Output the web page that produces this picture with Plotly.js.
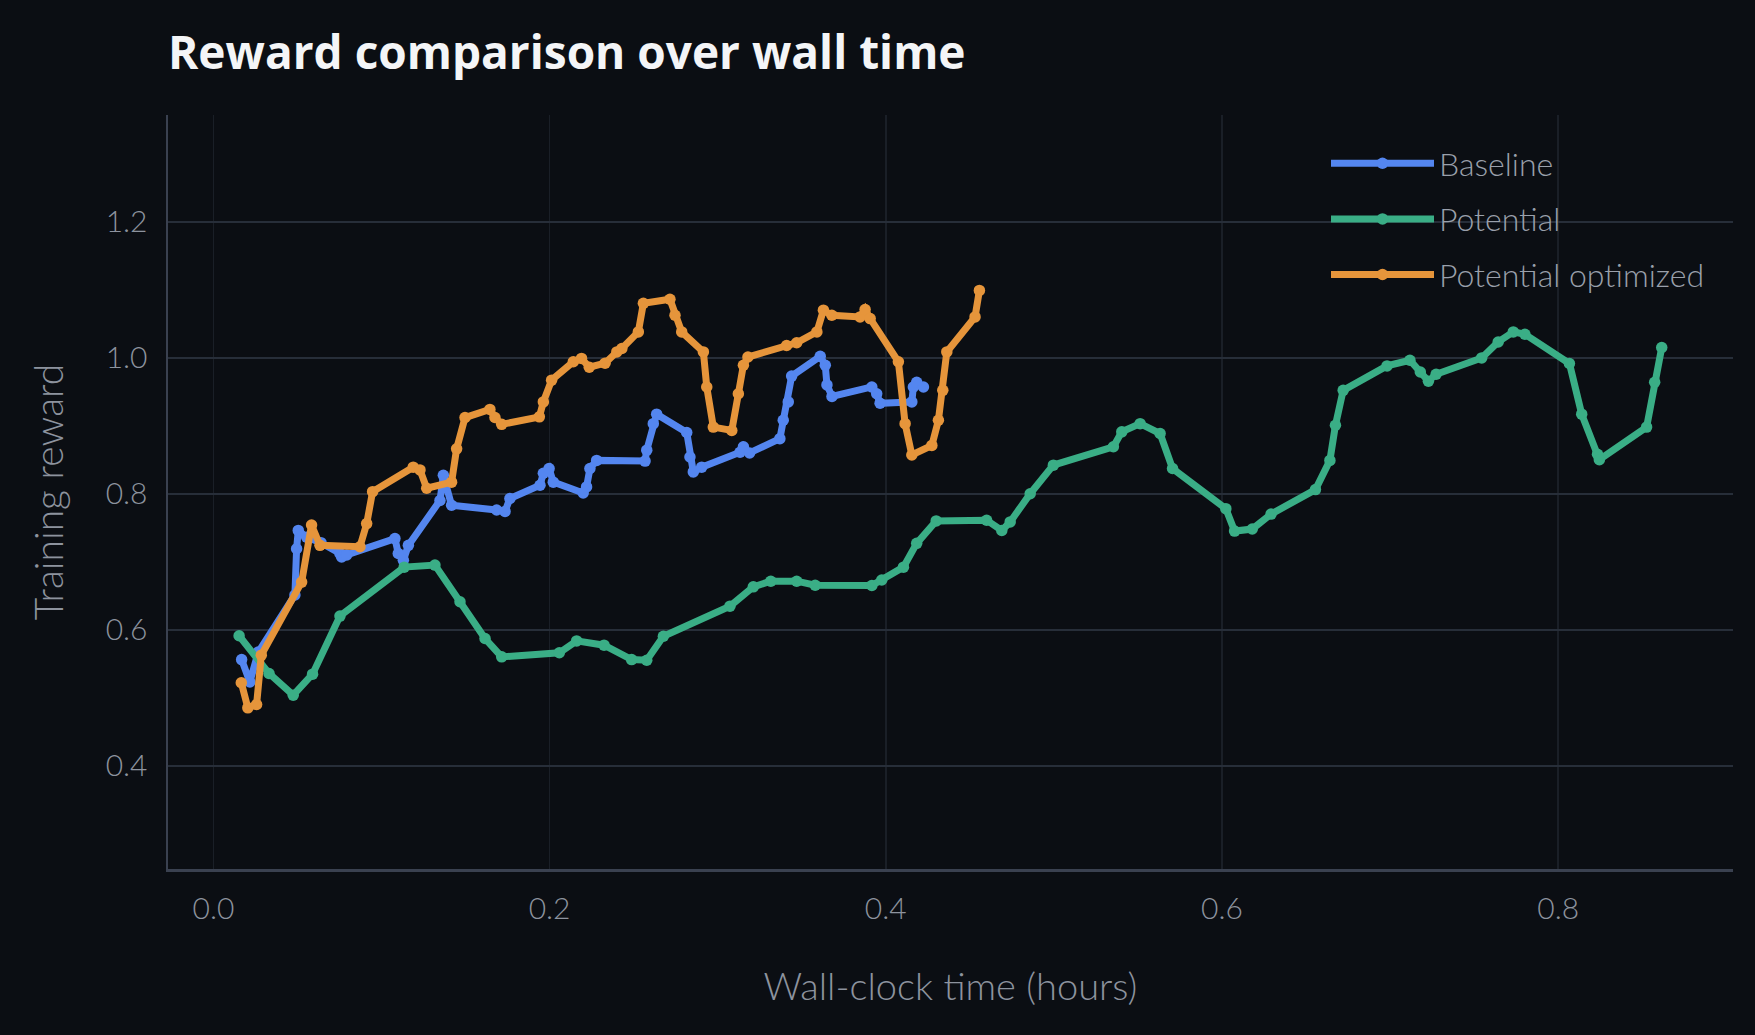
<!DOCTYPE html>
<html>
<head>
<meta charset="utf-8">
<script src="https://cdn.plot.ly/plotly-3.0.1.min.js"></script>
<style>
  html, body { margin: 0; padding: 0; background: #0b0e13; }
  #chart { width: 1755px; height: 1035px; }
</style>
</head>
<body>
<div id="chart"></div>
<script>
// ---- Data ----
const seriesNames = ["Baseline", "Potential", "Potential optimized"];

const baselineX = [0.0168, 0.0217, 0.0267, 0.0485, 0.0495, 0.0505, 0.0555, 0.0640, 0.0753, 0.0763, 0.0793,
  0.1080, 0.1100, 0.1130, 0.1160, 0.1348, 0.1368, 0.1417, 0.1685, 0.1735, 0.1764, 0.1943, 0.1963, 0.1997,
  0.2022, 0.2200, 0.2220, 0.2240, 0.2280, 0.2568, 0.2578, 0.2617, 0.2637, 0.2816, 0.2835, 0.2855, 0.2905,
  0.3133, 0.3153, 0.3190, 0.3370, 0.3390, 0.3420, 0.3440, 0.3610, 0.3640, 0.3650, 0.3680, 0.3917, 0.3946,
  0.3966, 0.4155, 0.4164, 0.4184, 0.4224];
const baselineY = [0.556, 0.523, 0.567, 0.651, 0.719, 0.746, 0.736, 0.728, 0.712, 0.707, 0.710,
  0.734, 0.712, 0.702, 0.724, 0.790, 0.827, 0.783, 0.776, 0.774, 0.793, 0.8125, 0.830, 0.837,
  0.817, 0.801, 0.810, 0.837, 0.849, 0.848, 0.864, 0.903, 0.917, 0.890, 0.854, 0.832, 0.839,
  0.861, 0.869, 0.860, 0.881, 0.908, 0.935, 0.973, 1.002, 0.989, 0.960, 0.943, 0.957, 0.947,
  0.933, 0.935, 0.957, 0.964, 0.957];

const potentialX = [0.0153, 0.0331, 0.0475, 0.0590, 0.0753, 0.1135, 0.1318, 0.1467, 0.1616, 0.1715,
  0.2058, 0.2161, 0.2324, 0.2488, 0.2578, 0.2677, 0.3073, 0.3212, 0.3316, 0.3470, 0.3580, 0.3917,
  0.3976, 0.4105, 0.4184, 0.4300, 0.4600, 0.4690, 0.4740, 0.4859, 0.4997, 0.5354, 0.5404, 0.5513,
  0.5632, 0.5706, 0.6023, 0.6075, 0.6180, 0.6292, 0.6556, 0.6642, 0.6675, 0.6721, 0.6982, 0.7118,
  0.7180, 0.7228, 0.7274, 0.7545, 0.7643, 0.7733, 0.7802, 0.8067, 0.8140, 0.8234, 0.8245, 0.8526,
  0.8574, 0.8616];
const potentialY = [0.591, 0.5356, 0.5037, 0.5346, 0.620, 0.692, 0.695, 0.641, 0.587, 0.560,
  0.566, 0.5835, 0.5772, 0.556, 0.555, 0.5904, 0.6346, 0.663, 0.6713, 0.6713, 0.6654, 0.665,
  0.673, 0.692, 0.727, 0.760, 0.761, 0.746, 0.7585, 0.800, 0.842, 0.869, 0.891, 0.903,
  0.8885, 0.837, 0.778, 0.745, 0.748, 0.770, 0.806, 0.849, 0.9007, 0.952, 0.988, 0.9963,
  0.979, 0.9654, 0.9757, 0.9997, 1.0232, 1.038, 1.0346, 0.9915, 0.917, 0.858, 0.850, 0.898,
  0.964, 1.015];

const optimizedX = [0.0166, 0.0205, 0.0257, 0.0285, 0.0525, 0.0584, 0.0634, 0.0872, 0.0912, 0.0947,
  0.1189, 0.1229, 0.1269, 0.1417, 0.1447, 0.1497, 0.1645, 0.1675, 0.1715, 0.1939, 0.1963, 0.2012,
  0.2141, 0.2190, 0.2236, 0.2330, 0.2400, 0.2430, 0.2528, 0.2558, 0.2716, 0.2746, 0.2786, 0.2915,
  0.2935, 0.2974, 0.3084, 0.3123, 0.3153, 0.3180, 0.3410, 0.3470, 0.3590, 0.3629, 0.3679, 0.3847,
  0.3877, 0.3907, 0.4075, 0.4115, 0.4155, 0.4274, 0.4313, 0.4339, 0.4363, 0.4531, 0.4557];
const optimizedY = [0.522, 0.485, 0.490, 0.5625, 0.670, 0.754, 0.724, 0.722, 0.756, 0.803,
  0.839, 0.835, 0.808, 0.817, 0.866, 0.912, 0.924, 0.912, 0.902, 0.913, 0.935, 0.967,
  0.994, 0.999, 0.986, 0.992, 1.0085, 1.0135, 1.038, 1.080, 1.086, 1.0625, 1.038, 1.0085,
  0.957, 0.898, 0.893, 0.947, 0.989, 1.001, 1.018, 1.022, 1.038, 1.070, 1.0625, 1.060,
  1.071, 1.0576, 0.994, 0.903, 0.857, 0.871, 0.908, 0.952, 1.0085, 1.060, 1.099];

const xTickVals = [0.0, 0.2, 0.4, 0.6, 0.8];
const yTickVals = [0.4, 0.6, 0.8, 1.0, 1.2];

// ---- Styles ----
const colors = ["#5486f0", "#3aae86", "#e6953b"];
const FONT = "Lato, 'Open Sans', 'DejaVu Sans', sans-serif";
const TITLE_FONT = "'Open Sans', Lato, 'DejaVu Sans', sans-serif";
const textGray = "#8d939e";

function mk(name, x, y, color, i) {
  return {
    type: "scatter", mode: "lines+markers", name: name, x: x, y: y,
    legendgroup: "g" + i,
    line: { color: color, width: 7 },
    marker: { color: color, size: 11.5 },
    hoverinfo: "skip"
  };
}

const traces = [
  mk(seriesNames[0], baselineX, baselineY, colors[0], 0),
  mk(seriesNames[1], potentialX, potentialY, colors[1], 1),
  mk(seriesNames[2], optimizedX, optimizedY, colors[2], 2)
];

const layout = {
  width: 1755, height: 1035,
  paper_bgcolor: "#0b0e13", plot_bgcolor: "#0b0e13",
  margin: { l: 168, r: 22, t: 115, b: 166, pad: 0 },
  font: { family: FONT, color: textGray, size: 30 },
  title: {
    text: "Reward comparison over wall time",
    x: 168 / 1755, xanchor: "left", xref: "container",
    y: 1 - 53 / 1035, yanchor: "middle", yref: "container",
    font: { family: TITLE_FONT, size: 46, color: "#f4f5f7", weight: 700 }
  },
  xaxis: {
    range: [-0.027, 0.904],
    tickvals: xTickVals, tickformat: ".1f",
    showgrid: true, gridcolor: "#1a1f27", gridwidth: 1.5,
    zeroline: false,
    showline: true, linecolor: "#3a4150", linewidth: 2.5,
    ticks: "", ticklabelstandoff: 11,
    tickfont: { family: FONT, size: 30, color: textGray, weight: 300 },
    title: { text: "Wall-clock time (hours)", standoff: 50,
      font: { family: FONT, size: 38, color: textGray, weight: 300 } }
  },
  yaxis: {
    range: [0.248, 1.357],
    tickvals: yTickVals, tickformat: ".1f",
    showgrid: true, gridcolor: "#272e39", gridwidth: 2,
    zeroline: false,
    showline: true, linecolor: "#3a4150", linewidth: 2.5,
    ticks: "", ticklabelstandoff: 12,
    tickfont: { family: FONT, size: 30, color: textGray, weight: 300 },
    title: { text: "Training reward", standoff: 30,
      font: { family: FONT, size: 39, color: textGray, weight: 300 } }
  },
  showlegend: true,
  legend: {
    x: (1326 - 168) / 1565, xanchor: "left", xref: "paper",
    y: 1 - (136 - 115) / 754, yanchor: "top", yref: "paper",
    bgcolor: "rgba(0,0,0,0)", borderwidth: 0,
    itemwidth: 103,
    traceorder: "grouped", tracegroupgap: 11,
    font: { family: FONT, size: 32, color: "#9aa0ab", weight: 300 }
  }
};

Plotly.newPlot("chart", traces, layout, { displayModeBar: false, staticPlot: true });
</script>
</body>
</html>
